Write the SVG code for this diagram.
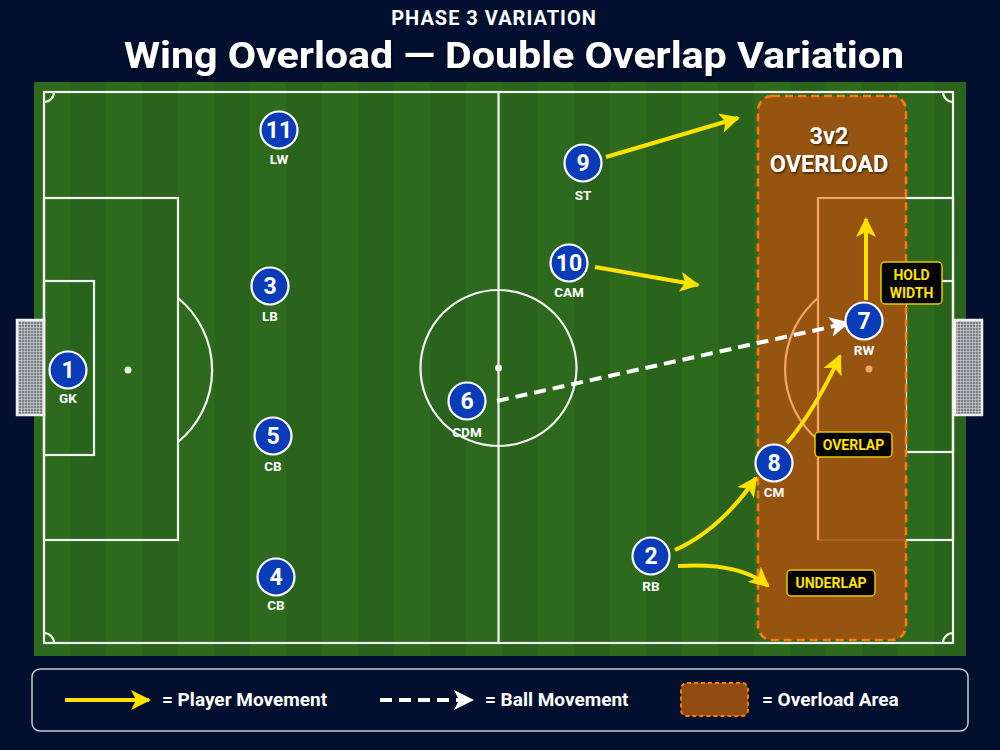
<svg xmlns="http://www.w3.org/2000/svg" width="1000" height="750" viewBox="0 0 1000 750">
<defs>
<pattern id="stripes" x="34" y="0" width="72" height="750" patternUnits="userSpaceOnUse">
<rect x="0" y="0" width="36" height="750" fill="#2e6a1e"/>
<rect x="36" y="0" width="36" height="750" fill="#2a631b"/>
</pattern>
<pattern id="net" x="0" y="0" width="3" height="3" patternUnits="userSpaceOnUse">
<rect width="3" height="3" fill="#7a7f86"/>
<path d="M0 0H3M0 0V3" stroke="#e6e6e6" stroke-width="1"/>
</pattern>
<marker id="ay" viewBox="0 0 10 10" refX="9" refY="5" markerWidth="5" markerHeight="5" markerUnits="strokeWidth" orient="auto">
<path d="M0 0L10 5L0 10L2.5 5Z" fill="#ffe100"/>
</marker>
<marker id="aw" viewBox="0 0 10 10" refX="9" refY="5" markerWidth="5" markerHeight="5" markerUnits="strokeWidth" orient="auto">
<path d="M0 0L10 5L0 10L2.5 5Z" fill="#ffffff"/>
</marker>
<filter id="sh" x="-20%" y="-20%" width="140%" height="140%">
<feDropShadow dx="1" dy="1.5" stdDeviation="1.2" flood-color="#000" flood-opacity="0.6"/>
</filter>
</defs>
<style>
.ln{fill:none;stroke:#f2f2f2;stroke-width:2.2}
.lnp{fill:none;stroke:#f2a66a;stroke-width:2.2}
.pc{fill:#0a3cb8;stroke:#ffffff;stroke-width:2.2}
.pn{font-family:Roboto,"Liberation Sans",sans-serif;font-weight:700;font-size:23px;fill:#fff;text-anchor:middle}
.pl{font-family:Roboto,"Liberation Sans",sans-serif;font-weight:700;font-size:13.5px;fill:#fff;text-anchor:middle}
.mv{fill:none;stroke:#ffe100;stroke-width:4;marker-end:url(#ay)}
.bl{fill:none;stroke:#ffffff;stroke-width:4;stroke-dasharray:12 7;marker-end:url(#aw)}
.tag{fill:#050505;stroke:#e8c800;stroke-width:1.5}
.tt{font-family:Roboto,"Liberation Sans",sans-serif;font-weight:700;font-size:14px;fill:#ffe100;text-anchor:middle}
.lg{font-family:Roboto,"Liberation Sans",sans-serif;font-weight:700;font-size:19px;fill:#fff}
</style>
<rect x="0" y="0" width="1000" height="750" fill="#020f2e"/>
<g id="title">
<text x="494" y="25" font-family="Roboto,'Liberation Sans',sans-serif" font-weight="700" font-size="20" letter-spacing="1" fill="#fff" text-anchor="middle">PHASE 3 VARIATION</text>
<text x="514" y="68" font-family="Roboto,'Liberation Sans',sans-serif" font-weight="700" font-size="37" fill="#fff" text-anchor="middle" textLength="780" lengthAdjust="spacingAndGlyphs" filter="url(#sh)">Wing Overload — Double Overlap Variation</text>
</g>
<g id="pitch">
<rect x="34" y="82" width="932" height="574" fill="url(#stripes)"/>
<rect x="44" y="92" width="909" height="551" class="ln"/>
<line x1="498.5" y1="92" x2="498.5" y2="643" class="ln"/>
<circle cx="498.5" cy="368" r="78" class="ln"/>
<circle cx="498.5" cy="368" r="3.5" fill="#f2f2f2"/>
<rect x="44" y="198" width="134" height="342" class="ln"/>
<rect x="44" y="281" width="50" height="174" class="ln"/>
<circle cx="128" cy="370" r="3.5" fill="#f2f2f2"/>
<path d="M178 298 A93 93 0 0 1 178 442" class="ln"/>
<rect x="906" y="281" width="47" height="171" class="ln"/>
<rect x="818" y="198" width="135" height="342" class="ln"/>
<path d="M54 92 A10 10 0 0 1 44 102" class="ln"/>
<path d="M44 633 A10 10 0 0 1 54 643" class="ln"/>
<path d="M943 92 A10 10 0 0 0 953 102" class="ln"/>
<path d="M953 633 A10 10 0 0 0 943 643" class="ln"/>
<rect x="17" y="320" width="27" height="95" fill="url(#net)" stroke="#f2f2f2" stroke-width="2.5"/>
<rect x="955" y="320" width="27" height="95" fill="url(#net)" stroke="#f2f2f2" stroke-width="2.5"/>
</g>
<g id="overload">
<rect x="758" y="96" width="148" height="544" rx="14" fill="#a2520f" fill-opacity="0.9" stroke="#ff7a10" stroke-width="2.5" stroke-dasharray="8 5"/>
<path d="M818 540 V198 H906" class="lnp"/>
<path d="M818 298 A93 93 0 0 0 818 440" class="lnp"/>
<circle cx="869" cy="369" r="3.5" fill="#f2a66a"/>
<text x="829" y="144" font-family="Roboto,'Liberation Sans',sans-serif" font-weight="700" font-size="23.5" fill="#fff" text-anchor="middle" filter="url(#sh)">3v2</text>
<text x="829" y="172" font-family="Roboto,'Liberation Sans',sans-serif" font-weight="700" font-size="23.5" fill="#fff" text-anchor="middle" filter="url(#sh)">OVERLOAD</text>
</g>
<g id="connectors">
<path d="M606 157 L738 118" class="mv"/>
<path d="M595 267 L698 285" class="mv"/>
<path d="M787 443 Q815 410 840 356" class="mv"/>
<path d="M866 300 L866 219" class="mv"/>
<path d="M675 550 Q720 530 756 478" class="mv"/>
<path d="M678 566 Q740 562 768 586" class="mv"/>
<path d="M497 401 L848 323" class="bl"/>
</g>
<g id="tags">
<g id="tag-hold"><rect x="881" y="262" width="61" height="42" rx="4" class="tag"/><text x="911.5" y="280" class="tt">HOLD</text><text x="911.5" y="298" class="tt">WIDTH</text></g>
<g id="tag-overlap"><rect x="815" y="432" width="77" height="25" rx="4" class="tag"/><text x="853.5" y="450" class="tt">OVERLAP</text></g>
<g id="tag-underlap"><rect x="787" y="570" width="88" height="26" rx="4" class="tag"/><text x="831" y="588" class="tt">UNDERLAP</text></g>
</g>
<g id="p11"><circle cx="279" cy="130" r="18.5" class="pc"/><text x="279" y="138" class="pn">11</text><text x="279" y="164" class="pl">LW</text></g>
<g id="p9"><circle cx="583" cy="163" r="18.5" class="pc"/><text x="583" y="171" class="pn">9</text><text x="583" y="200" class="pl">ST</text></g>
<g id="p3"><circle cx="270" cy="286" r="18.5" class="pc"/><text x="270" y="294" class="pn">3</text><text x="270" y="321" class="pl">LB</text></g>
<g id="p10"><circle cx="569" cy="263" r="18.5" class="pc"/><text x="569" y="271" class="pn">10</text><text x="569" y="297" class="pl">CAM</text></g>
<g id="p1"><circle cx="68" cy="370" r="18.5" class="pc"/><text x="68" y="378" class="pn">1</text><text x="68" y="403" class="pl">GK</text></g>
<g id="p6"><circle cx="467" cy="401" r="18.5" class="pc"/><text x="467" y="409" class="pn">6</text><text x="467" y="437" class="pl">CDM</text></g>
<g id="p5"><circle cx="273" cy="436" r="18.5" class="pc"/><text x="273" y="444" class="pn">5</text><text x="273" y="471" class="pl">CB</text></g>
<g id="p4"><circle cx="276" cy="577" r="18.5" class="pc"/><text x="276" y="585" class="pn">4</text><text x="276" y="610" class="pl">CB</text></g>
<g id="p7"><circle cx="864" cy="321" r="18.5" class="pc"/><text x="864" y="329" class="pn">7</text><text x="864" y="355" class="pl">RW</text></g>
<g id="p8"><circle cx="774" cy="463" r="18.5" class="pc"/><text x="774" y="471" class="pn">8</text><text x="774" y="497" class="pl">CM</text></g>
<g id="p2"><circle cx="651" cy="556" r="18.5" class="pc"/><text x="651" y="564" class="pn">2</text><text x="651" y="591" class="pl">RB</text></g>
<g id="legend">
<rect x="32" y="669" width="936" height="62" rx="8" fill="#020f2e" stroke="#c8ccd4" stroke-width="1.5"/>
<path d="M65 700 L149 700" class="mv"/>
<text x="162" y="706" class="lg">= Player Movement</text>
<path d="M380 700 L472 700" class="bl" stroke-dasharray="10 6"/>
<text x="485" y="706" class="lg">= Ball Movement</text>
<rect x="681" y="683" width="67" height="33" rx="6" fill="#a2520f" fill-opacity="0.9" stroke="#ff7a10" stroke-width="2" stroke-dasharray="4 3"/>
<text x="762" y="706" class="lg">= Overload Area</text>
</g>
</svg>
